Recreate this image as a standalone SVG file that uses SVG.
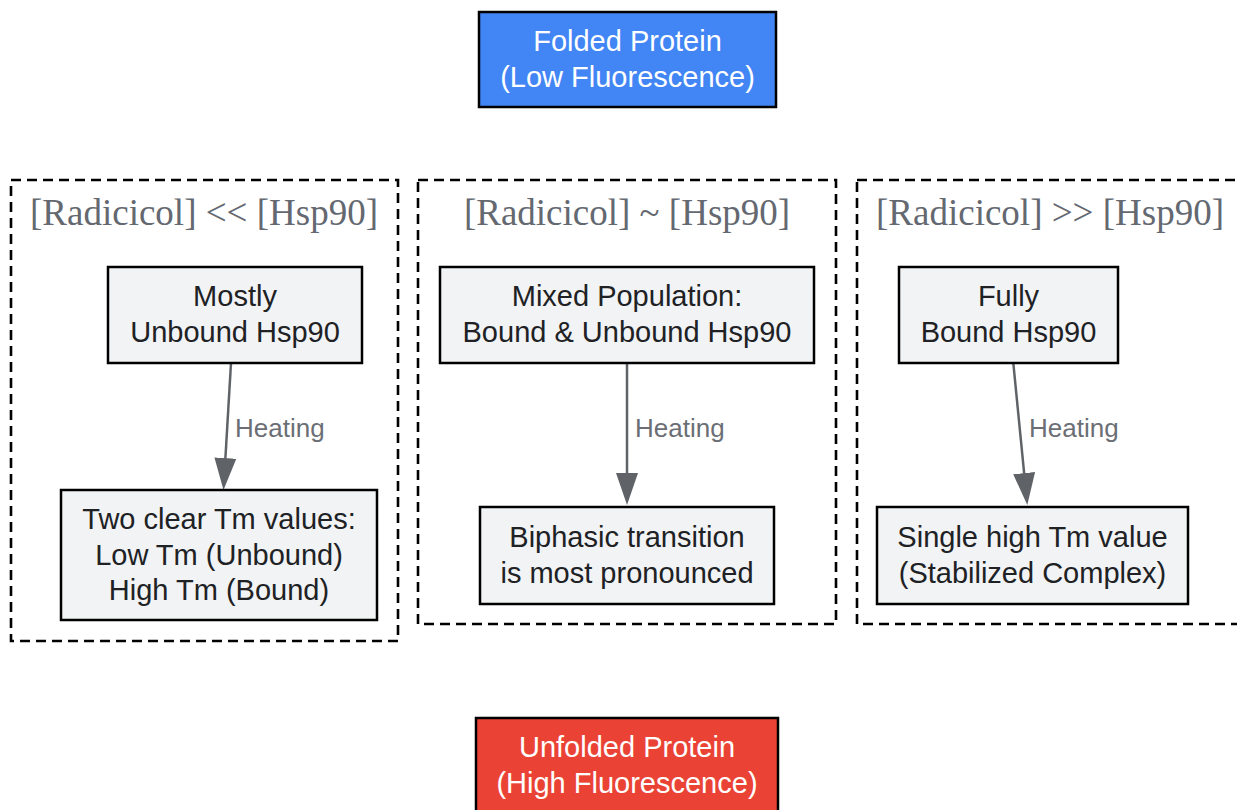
<svg xmlns="http://www.w3.org/2000/svg" width="1237" height="810" viewBox="0 0 1237 810">
<style>
.cl{fill:none;stroke:#000;stroke-width:2.6;stroke-dasharray:10 6}
.ct{font-family:"Liberation Serif",serif;font-size:37px;fill:#646870;text-anchor:middle}
.nd{fill:#F1F3F4;stroke:#000;stroke-width:2.5}
.nt{font-family:"Liberation Sans",Arial,sans-serif;font-size:29px;fill:#202124;text-anchor:middle}
.wt{font-family:"Liberation Sans",Arial,sans-serif;font-size:29px;fill:#fff;text-anchor:middle}
.ed{fill:none;stroke:#5f6368;stroke-width:2.5}
.el{font-family:"Liberation Sans",Arial,sans-serif;font-size:26px;fill:#6b6f75}
</style>
<defs>
<marker id="ah" markerUnits="userSpaceOnUse" markerWidth="32" markerHeight="22" refX="22" refY="11" orient="auto">
<path d="M0,0 L32,11 L0,22 z" fill="#5f6368"/>
</marker>
</defs>
<rect width="1237" height="810" fill="#fff"/>
<g id="cluster-low">
<rect class="cl" x="11" y="180" width="387" height="461"/>
<text class="ct" x="204" y="225">[Radicicol] &lt;&lt; [Hsp90]</text>
</g>
<g id="cluster-mid">
<rect class="cl" x="418" y="180" width="418" height="444"/>
<text class="ct" x="627" y="225">[Radicicol] ~ [Hsp90]</text>
</g>
<g id="cluster-high">
<rect class="cl" x="857" y="180" width="386" height="444"/>
<text class="ct" x="1050" y="225">[Radicicol] &gt;&gt; [Hsp90]</text>
</g>
<g id="connectors">
<path class="ed" d="M231,363 L224.1,480" marker-end="url(#ah)"/>
<text class="el" x="235" y="437">Heating</text>
<path class="ed" d="M627,363 L627,495" marker-end="url(#ah)"/>
<text class="el" x="635" y="437">Heating</text>
<path class="ed" d="M1013.3,363 L1026.3,495" marker-end="url(#ah)"/>
<text class="el" x="1029" y="437">Heating</text>
</g>
<g id="folded">
<rect x="479" y="12" width="297" height="95" fill="#4285F4" stroke="#000" stroke-width="2.5"/>
<text class="wt" x="627.5" y="51">Folded Protein</text>
<text class="wt" x="627.5" y="87">(Low Fluorescence)</text>
</g>
<g id="unfolded">
<rect x="476" y="718" width="302" height="96" fill="#EA4335" stroke="#000" stroke-width="2.5"/>
<text class="wt" x="627" y="757">Unfolded Protein</text>
<text class="wt" x="627" y="793">(High Fluorescence)</text>
</g>
<g id="mostly-unbound">
<rect class="nd" x="108" y="267" width="254" height="96"/>
<text class="nt" x="235" y="305.5">Mostly</text>
<text class="nt" x="235" y="341.5">Unbound Hsp90</text>
</g>
<g id="two-tm">
<rect class="nd" x="61" y="490" width="316" height="130"/>
<text class="nt" x="219" y="529">Two clear Tm values:</text>
<text class="nt" x="219" y="564.5">Low Tm (Unbound)</text>
<text class="nt" x="219" y="600">High Tm (Bound)</text>
</g>
<g id="mixed">
<rect class="nd" x="440" y="267" width="374" height="96"/>
<text class="nt" x="627" y="305.5">Mixed Population:</text>
<text class="nt" x="627" y="341.5">Bound &amp; Unbound Hsp90</text>
</g>
<g id="biphasic">
<rect class="nd" x="480" y="507" width="294" height="97"/>
<text class="nt" x="627" y="547">Biphasic transition</text>
<text class="nt" x="627" y="583">is most pronounced</text>
</g>
<g id="fully-bound">
<rect class="nd" x="899" y="267" width="219" height="96"/>
<text class="nt" x="1008.5" y="305.5">Fully</text>
<text class="nt" x="1008.5" y="341.5">Bound Hsp90</text>
</g>
<g id="single-tm">
<rect class="nd" x="877" y="507" width="311" height="97"/>
<text class="nt" x="1032.5" y="547">Single high Tm value</text>
<text class="nt" x="1032.5" y="583">(Stabilized Complex)</text>
</g>
</svg>
